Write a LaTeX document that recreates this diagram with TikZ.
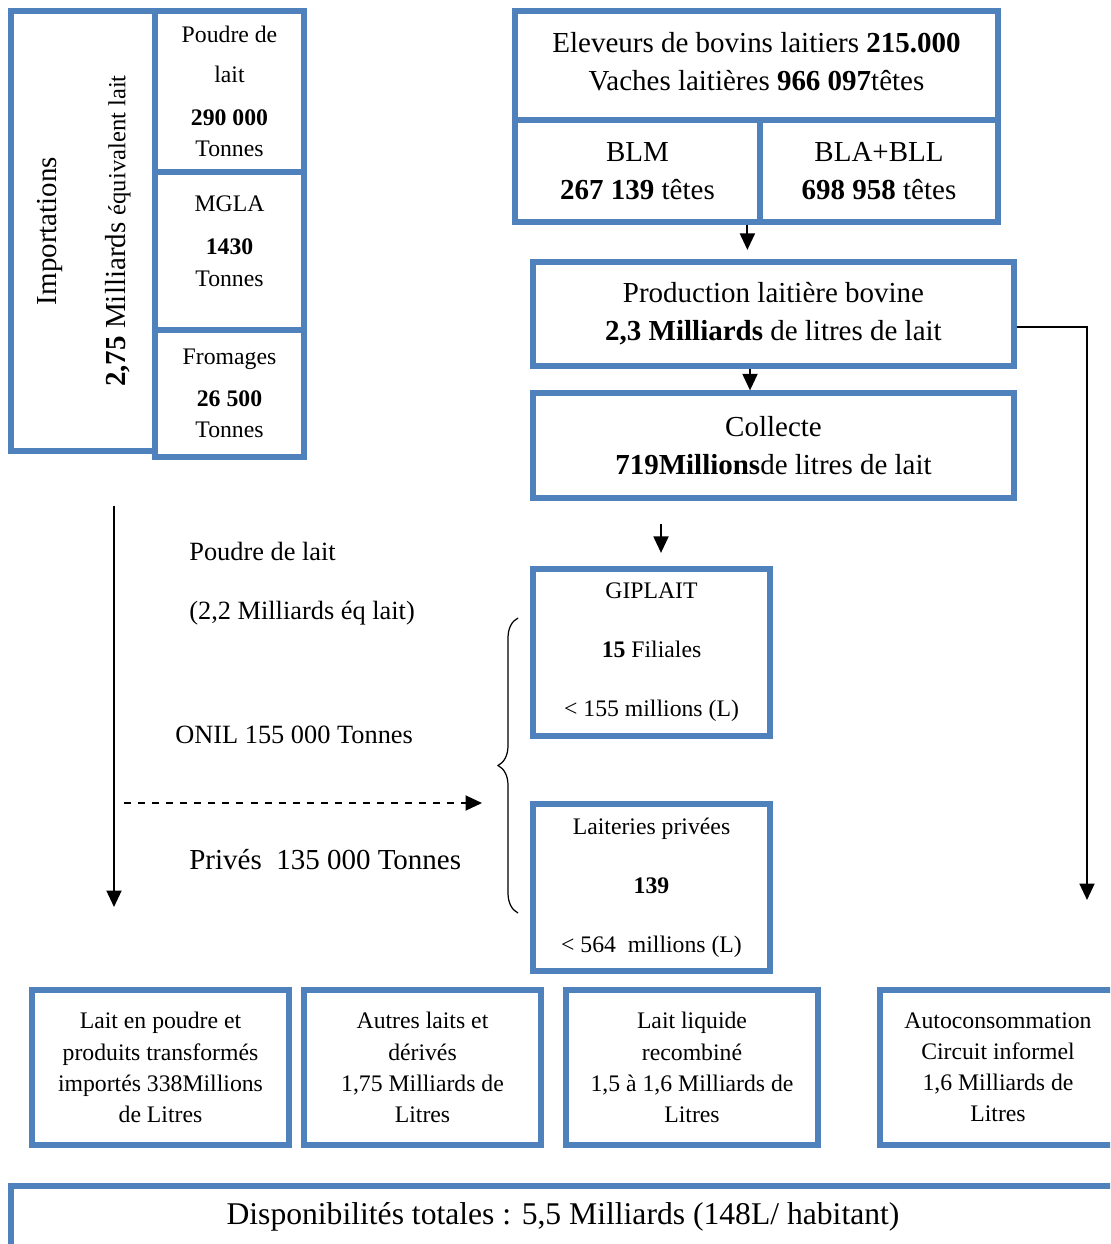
\documentclass[tikz,border=0pt]{standalone}
\usepackage{fontspec}
\setmainfont{Liberation Serif}
\usetikzlibrary{arrows.meta}
\usetikzlibrary{decorations.pathreplacing}
\definecolor{boxblue}{RGB}{79,129,189}
\tikzset{
	bluebox/.style={draw=boxblue, line width=3pt, align=center, inner sep=0pt},
	txtmain/.style={font=\fontsize{16.5}{21.5}\selectfont},
	txtsmall/.style={font=\fontsize{13.5}{18}\selectfont},
	txtwide/.style={font=\fontsize{13.5}{33.5}\selectfont},
	txtbottom/.style={font=\fontsize{13.5}{17.7}\selectfont},
	txtleft/.style={anchor=west, inner sep=0pt, font=\fontsize{15}{18}\selectfont},
	mydash/.style={dashed, dash pattern=on 4pt off 4pt},
	myarrow/.style={line width=1.1pt, -{Triangle[length=3.3mm, width=3mm]}}
}

\begin{document}
\begin{tikzpicture}[x=0.02cm, y=-0.02cm]
	\useasboundingbox (0,0) rectangle (1110,1244);
	\clip (0,0) rectangle (1110,1244);
	
	\node[bluebox, minimum width=2.88cm, minimum height=8.8cm] (imp) at (83,231) {};
	\node[txtmain, rotate=90] (impName) at (50,231) {Importations};
	\node[txtmain, rotate=90] (impTotal) at (118,231) {\textbf{2,75} Milliards {\fontsize{14}{16}\selectfont équivalent lait}};
	
	\node[bluebox, txtsmall, minimum width=2.98cm, minimum height=3.22cm] (poudre) at (229.5,91.5) {Poudre de\\[4.7pt]lait\\[6.4pt]\textbf{290 000}\\Tonnes};
	\node[bluebox, txtsmall, minimum width=2.98cm, minimum height=3.16cm, text depth=0.4cm] (mgla) at (229.5,251) {MGLA\\[6.4pt]\textbf{1430}\\Tonnes};
	\node[bluebox, txtsmall, minimum width=2.98cm, minimum height=2.54cm] (fromages) at (229.5,393.5) {Fromages\\[5.8pt]\textbf{26 500}\\Tonnes};
	
	\node[bluebox, txtmain, minimum width=9.66cm, minimum height=2.18cm, text depth=0.16cm] (eleveurs) at (756.5,65.5) {Eleveurs de bovins laitiers \textbf{215.000}\\Vaches laitières \textbf{966 097}têtes};
	\node[bluebox, txtmain, minimum width=4.9cm, minimum height=2.04cm] (blm) at (637.5,171) {BLM\\\textbf{267 139} têtes};
	\node[bluebox, txtmain, minimum width=4.76cm, minimum height=2.04cm] (bla) at (879,171) {BLA+BLL\\\textbf{698 958} têtes};
	\node[bluebox, txtmain, minimum width=9.62cm, minimum height=2.08cm] (prod) at (773.5,314) {Production laitière bovine\\\textbf{2,3 Milliards} de litres de lait};
	\node[bluebox, txtmain, minimum width=9.62cm, minimum height=2.1cm] (collecte) at (773.5,445.5) {Collecte\\\textbf{719Millions}de litres de lait};
	
	\node[bluebox, txtwide, minimum width=4.74cm, minimum height=3.34cm] (giplait) at (651.5,652.5) {GIPLAIT\\\textbf{15} Filiales\\< 155 millions (L)};
	\node[bluebox, txtwide, minimum width=4.74cm, minimum height=3.34cm] (laiteries) at (651.5,887.5) {Laiteries privées\\\textbf{139}\\< 564\ \ millions (L)};
	
	\node[txtleft] (poudreLbl) at (189,551) {Poudre de lait};
	\node[txtleft] (poudreEq) at (189,613) {(2,2 Milliards éq lait)};
	\node[txtleft] (onil) at (175,735) {ONIL 155 000 Tonnes};
	\node[txtleft, font=\fontsize{16.5}{20}\selectfont] (prives) at (189,860) {Privés\ \ 135 000 Tonnes};
	
	\node[bluebox, txtbottom, minimum width=5.14cm, minimum height=3.1cm] (importes) at (160.5,1067.5) {Lait en poudre et\\produits transformés\\importés 338Millions\\de Litres};
	\node[bluebox, txtbottom, minimum width=4.74cm, minimum height=3.1cm] (autres) at (422.5,1067.5) {Autres laits et\\dérivés\\1,75 Milliards de\\Litres};
	\node[bluebox, txtbottom, minimum width=5.04cm, minimum height=3.1cm] (recombine) at (692,1067.5) {Lait liquide\\recombiné\\1,5 à 1,6 Milliards de\\Litres};
	\node[bluebox, txtbottom, minimum width=4.72cm, minimum height=3.1cm] (autoconso) at (998,1067.5) {Autoconsommation\\Circuit informel\\1,6 Milliards de\\Litres};
	
	\node[bluebox, font=\fontsize{18}{22}\selectfont, minimum width=22.08cm, minimum height=1.24cm] (total) at (563,1217) {Disponibilités totales : 5,5 Milliards (148L/ habitant)};
	
	\coordinate (impFrom) at (114,506);
	\coordinate (impTo) at (114,907);
	\coordinate (dashFrom) at (124,803);
	\coordinate (dashTo) at (482,803);
	\coordinate (autoEnd) at (1087,900);
	
	\draw[myarrow, shorten >=0.19cm] ([xshift=-0.2cm]bla.south west) -- ([xshift=-0.2cm]bla.south west |- prod.north);
	\draw[myarrow] ([xshift=-0.47cm]prod.south) -- ([xshift=-0.47cm]collecte.north);
	\draw[myarrow, shorten <=0.47cm, shorten >=0.27cm] ([xshift=-2.25cm]collecte.south) -- ([xshift=0.19cm]giplait.north);
	\draw[myarrow] ([yshift=-0.26cm]prod.east) -| (autoEnd);
	\draw[myarrow] (impFrom) -- (impTo);
	\draw[myarrow, mydash] (dashFrom) -- (dashTo);
	
	\draw[decorate, decoration={brace, amplitude=0.4cm}, line width=0.7pt] (518,913) -- (518,618);
\end{tikzpicture}
\end{document}
